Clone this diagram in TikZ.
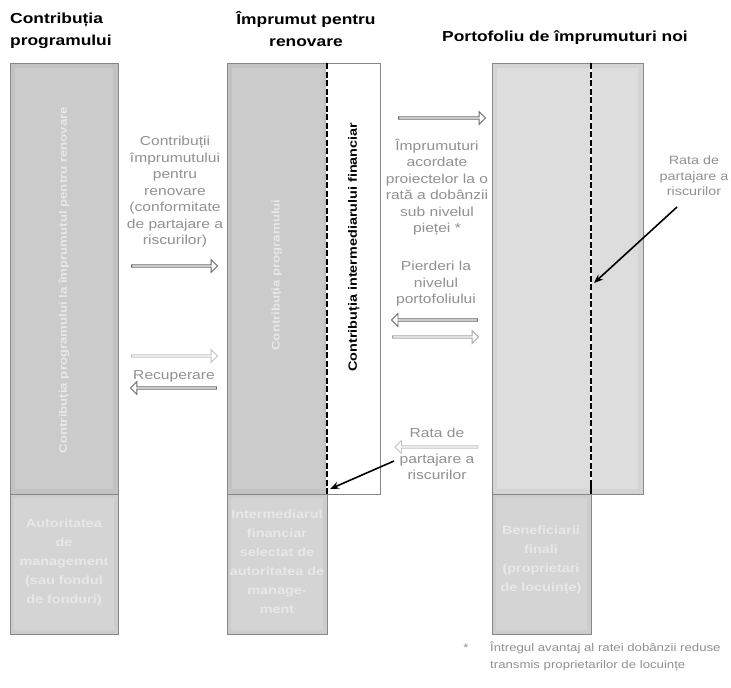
\documentclass[tikz,border=0pt]{standalone}
\usepackage{fontspec}
\setmainfont{Liberation Sans}[FakeStretch=1.2]
\usetikzlibrary{shapes.arrows,arrows.meta,calc}

\definecolor{barfill}{RGB}{194,194,194}
\definecolor{barinner}{RGB}{203,203,203}
\definecolor{barline}{RGB}{135,135,135}
\definecolor{portfill}{RGB}{212,212,212}
\definecolor{portinner}{RGB}{221,221,221}
\definecolor{basefill}{RGB}{204,204,204}
\definecolor{baseinner}{RGB}{212,212,212}
\definecolor{labelgrey}{RGB}{145,145,145}
\definecolor{arrowdark}{RGB}{105,105,105}
\definecolor{arrowpale}{RGB}{195,195,195}
\definecolor{bartext}{RGB}{232,232,232}

\tikzset{
  header/.style={font=\fontsize{14.5}{22}\selectfont\bfseries, inner sep=0pt},
  flowtext/.style={font=\fontsize{13}{16.5}\selectfont, text=labelgrey, align=center, inner sep=0pt},
  inbar/.style={font=\fontsize{12}{19}\selectfont\bfseries, text=bartext, align=center, inner sep=0pt},
  block/.style={draw=barline, line width=0.7pt, anchor=north west, inner sep=0pt, outer sep=0pt},
  hollow/.style={single arrow, draw=#1, fill=white, line width=0.9pt,
    minimum height=86pt, minimum width=13pt, single arrow head extend=2.2pt,
    inner sep=0pt, outer sep=0pt},
  pointer/.style={-{Stealth[length=9pt,width=7pt]}, line width=1.6pt, black},
  splitline/.style={line width=2.2pt, black, dash pattern=on 6pt off 2.5pt},
}

\begin{document}
\begin{tikzpicture}[x=1pt,y=-1pt]
\useasboundingbox (0,0) rectangle (731,688);
\fill[white] (0,0) rectangle (731,688);

% ---- column headings
\node[header, align=left, anchor=west] (progtitle) at (10,31) {Contribuția\\programului};
\node[header, align=center] (loantitle) at (306,29.5) {Împrumut pentru\\renovare};
\node[header] (porttitle) at (565,38) {Portofoliu de împrumuturi noi};

% ---- programme contribution column
\node[block, fill=barfill, minimum width=108pt, minimum height=431pt] (progbar) at (10,63) {};
\fill[barinner] ($(progbar.north west)+(5,5)$) rectangle ($(progbar.south east)+(-5,-5)$);
\node[inbar, rotate=90, font=\fontsize{11}{13}\selectfont\bfseries] (progvert) at (64,280)
  {Contribuția programului la împrumutul pentru renovare};
\node[block, fill=basefill, minimum width=108pt, minimum height=140pt] (progbase) at (10,494) {};
\fill[baseinner] ($(progbase.north west)+(4,4)$) rectangle ($(progbase.south east)+(-4,-4)$);
\draw[barline, line width=1pt] (progbase.north west) -- (progbase.north east);
\node[inbar] (progbasetext) at (64,562) {Autoritatea\\de\\management\\(sau fondul\\de fonduri)};

% ---- renovation loan column
\node[block, fill=barfill, minimum width=100pt, minimum height=431pt] (midbar) at (227,63) {};
\fill[barinner] ($(midbar.north west)+(5,5)$) rectangle ($(midbar.south east)+(-3,-5)$);
\node[block, fill=white, minimum width=53pt, minimum height=431pt] (ficontrib) at (327,63) {};
\node[inbar, rotate=90, font=\fontsize{11}{13}\selectfont\bfseries] (midvert) at (277,275)
  {Contribuția programului};
\draw[white, line width=2.2pt] (midbar.north east) -- (midbar.south east);
\draw[splitline] (midbar.north east) -- (midbar.south east);
\node[font=\fontsize{12}{14}\selectfont\bfseries, rotate=90, inner sep=0pt] (filabel) at (354,247)
  {Contribuția intermediarului financiar};
\node[block, fill=basefill, minimum width=100pt, minimum height=140pt] (midbase) at (227,494) {};
\fill[baseinner] ($(midbase.north west)+(4,4)$) rectangle ($(midbase.south east)+(-4,-4)$);
\draw[barline, line width=1pt] (midbase.north west) -- (midbase.north east);
\node[inbar] (midbasetext) at (277,562) {Intermediarul\\financiar\\selectat de\\autoritatea de\\manage-\\ment};

% ---- new loan portfolio column
\node[block, fill=portfill, minimum width=151pt, minimum height=431pt] (portbar) at (492,63) {};
\fill[portinner] ($(portbar.north west)+(5,5)$) rectangle ($(portbar.south east)+(-5,-5)$);
\coordinate (porttop) at (591,63);
\coordinate (portbottom) at (591,494);
\draw[white, line width=2.2pt] (porttop) -- (portbottom);
\draw[splitline] (porttop) -- (portbottom);
\node[block, fill=basefill, minimum width=99pt, minimum height=140pt] (portbase) at (492,494) {};
\fill[baseinner] ($(portbase.north west)+(4,4)$) rectangle ($(portbase.south east)+(-4,-4)$);
\draw[barline, line width=1pt] (portbase.north west) -- (portbase.north east);
\draw[black, line width=2.2pt] ($(portbase.north east)+(0,-14)$) -- (portbase.north east);
\node[inbar] (portbasetext) at (541,560) {Beneficiarii\\finali\\(proprietari\\de locuințe)};

% ---- flows between programme and renovation loan
\node[flowtext] (contribtext) at (175,192)
  {Contribuții\\împrumutului\\pentru\\renovare\\(conformitate\\de partajare a\\riscurilor)};
\node[hollow=arrowdark] (contribarrow) at (174,266) {};
\node[hollow=arrowpale] (reflowin) at (174,356) {};
\node[flowtext] (recovtext) at (174,376) {Recuperare};
\node[hollow=arrowdark, shape border rotate=180] (recovarrow) at (174,388) {};

% ---- flows between renovation loan and portfolio
\node[hollow=arrowdark, minimum height=87pt] (lendarrow) at (441.5,118) {};
\node[flowtext] (lendtext) at (437,187)
  {Împrumuturi\\acordate\\proiectelor la o\\rată a dobânzii\\sub nivelul\\pieței *};
\node[flowtext] (losstext) at (436,284) {Pierderi la\\nivelul\\portofoliului};
\node[hollow=arrowdark, shape border rotate=180] (lossarrow) at (435,320) {};
\node[hollow=arrowpale!85!black] (lossback) at (435,337) {};
\node[flowtext] (riskrate1) at (437,433) {Rata de};
\node[hollow=arrowpale, shape border rotate=180, minimum height=83pt] (riskarrow) at (437,447) {};
\node[flowtext] (riskrate2) at (437,467) {partajare a\\riscurilor};

% ---- risk sharing rate on the portfolio
\node[flowtext, font=\fontsize{12}{15.5}\selectfont] (riskright) at (694,176) {Rata de\\partajare a\\riscurilor};

% ---- pointers to the split lines
\coordinate (midtail) at (394,461);
\coordinate (midhead) at (330,489);
\draw[pointer] (midtail) -- (midhead);
\coordinate (porttail) at (677,207);
\coordinate (porthead) at (594,283);
\draw[pointer] (porttail) -- (porthead);

% ---- footnote
\node[font=\fontsize{11}{17}\selectfont, text=labelgrey, inner sep=0pt] (footstar) at (466,648) {*};
\node[font=\fontsize{11}{17}\selectfont, text=labelgrey, align=left, anchor=west, inner sep=0pt] (foottext) at (490,656.5)
  {Întregul avantaj al ratei dobânzii reduse\\transmis proprietarilor de locuințe};
\end{tikzpicture}
\end{document}
